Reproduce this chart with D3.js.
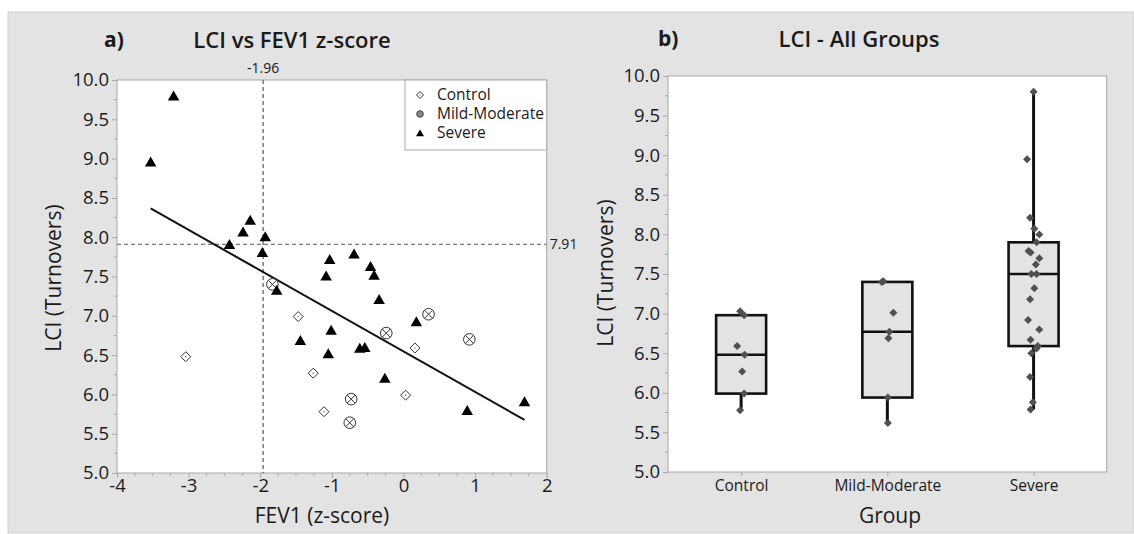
<!DOCTYPE html>
<html>
<head>
<meta charset="utf-8">
<script src="https://cdn.jsdelivr.net/npm/d3@7"></script>
<style>
  body { margin: 0; background: #ffffff; }
  svg { display: block; font-family: "Open Sans", "Noto Sans", sans-serif; }
</style>
</head>
<body>
<div id="container"></div>
<script>
// panel a) scatter data, FEV1 z-score vs LCI
const controlX = [-3.04, -1.47, -1.26, -1.11, 0.03, 0.16];
const controlY = [6.48, 6.99, 6.27, 5.78, 5.99, 6.59];
const mildX = [-1.83, -0.24, 0.35, 0.92, -0.73, -0.75];
const mildY = [7.40, 6.78, 7.02, 6.70, 5.94, 5.64];
const severeX = [-3.53, -3.21, -2.43, -2.24, -2.14, -1.97, -1.93, -1.77, -1.44, -1.08, -1.03, -1.01,
    -1.05, -0.69, -0.61, -0.54, -0.46, -0.41, -0.34, -0.26, 0.18, 0.89, 1.69];
const severeY = [8.96, 9.80, 7.91, 8.07, 8.22, 7.81, 8.01, 7.33, 6.69, 7.51, 7.72, 6.82,
    6.52, 7.79, 6.59, 6.60, 7.63, 7.52, 7.21, 6.21, 6.93, 5.80, 5.91];
const fitLine = { intercept: 6.547, slope: -0.5154 }; // regression line as printed
const refX = -1.96;
const refY = 7.91;
const xTicksA = [-4, -3, -2, -1, 0, 1, 2];
const yTicks = [5.0, 5.5, 6.0, 6.5, 7.0, 7.5, 8.0, 8.5, 9.0, 9.5, 10.0];

// panel b) LCI per group, with jitter (in units of half box width)
const groups = ["Control", "Mild-Moderate", "Severe"];
const controlLCI = [7.03, 6.98, 6.59, 6.48, 6.27, 5.99, 5.78];
const controlJitter = [-0.04, 0.12, -0.16, 0.14, 0.04, 0.12, -0.04];
const mildLCI = [7.41, 7.40, 7.01, 6.77, 6.69, 5.94, 5.62];
const mildJitter = [-0.16, -0.22, 0.24, 0.08, 0.04, 0.02, 0.02];
const severeLCI = [9.80, 8.95, 8.21, 8.07, 8.00, 7.90, 7.79, 7.77, 7.70, 7.62, 7.50, 7.50,
    7.32, 7.18, 6.92, 6.80, 6.67, 6.59, 6.56, 6.50, 6.20, 5.88, 5.79];
const severeJitter = [0, -0.26, -0.14, 0.03, 0.23, 0.12, -0.2, -0.12, 0.23, 0.09, -0.09, 0.12,
    0.03, -0.14, -0.22, 0.23, -0.12, 0.17, 0.12, -0.09, -0.14, -0.03, -0.12];

const W = 1134, H = 534;
const TEXT = "#1a1a1a";
const FRAME = "#a8a8a8";

const svg = d3.select("#container").append("svg").attr("width", W).attr("height", H);

// grey figure background
svg.append("rect").attr("x", 8).attr("y", 12).attr("width", W - 8).attr("height", 521)
    .attr("fill", "#e3e3e3").attr("stroke", "#d2d2d2");

// minitab style quartiles: position p*(n+1)
const mtbQuantile = (vals, p) => {
    const s = vals.slice().sort(d3.ascending);
    const n = s.length;
    const pos = p * (n + 1);
    const lo = Math.floor(pos);
    if (lo < 1) return s[0];
    if (lo >= n) return s[n - 1];
    return s[lo - 1] + (pos - lo) * (s[lo] - s[lo - 1]);
};

// strip d3 axis defaults so the page font is used
const styleAxis = (ax, size) => {
    ax.attr("font-family", null).attr("font-size", null);
    ax.select(".domain").remove();
    ax.selectAll(".tick line").attr("stroke", FRAME);
    ax.selectAll(".tick text").attr("font-size", size).attr("font-weight", 500).attr("fill", TEXT);
};

const drawYAxis = (g, y, x0) => {
    const ax = g.append("g").attr("transform", `translate(${x0},0)`)
        .call(d3.axisLeft(y).tickValues(yTicks).tickFormat(d3.format(".1f")).tickSize(5).tickPadding(3));
    styleAxis(ax, 18.5);
    // minor ticks
    const minor = d3.range(5.25, 10, 0.5);
    g.selectAll(null).data(minor).join("line")
        .attr("x1", x0 - 3).attr("x2", x0)
        .attr("y1", (d) => y(d)).attr("y2", (d) => y(d))
        .attr("stroke", FRAME);
};

// ---------------- panel a ----------------
const A = { x0: 117, x1: 546.7, y0: 80, y1: 473 };
const xA = d3.scaleLinear().domain([-4, 2]).range([A.x0, A.x1]);
const yA = d3.scaleLinear().domain([5, 10]).range([A.y1, A.y0]);
const gA = svg.append("g");

gA.append("rect").attr("x", A.x0).attr("y", A.y0).attr("width", A.x1 - A.x0).attr("height", A.y1 - A.y0)
    .attr("fill", "#fff").attr("stroke", FRAME);

drawYAxis(gA, yA, A.x0);

const axA = gA.append("g").attr("transform", `translate(0,${A.y1})`)
    .call(d3.axisBottom(xA).tickValues(xTicksA).tickFormat((d) => String(d)).tickSize(5).tickPadding(1));
styleAxis(axA, 18.5);
gA.selectAll(null).data(d3.range(-4, 2, 0.25).filter((d) => d % 1 !== 0)).join("line")
    .attr("x1", (d) => xA(d)).attr("x2", (d) => xA(d))
    .attr("y1", A.y1).attr("y2", A.y1 + 3).attr("stroke", FRAME);

// reference lines
gA.append("line").attr("x1", xA(refX)).attr("x2", xA(refX)).attr("y1", A.y0).attr("y2", A.y1)
    .attr("stroke", "#555").attr("stroke-width", 1.2).attr("stroke-dasharray", "4,3");
gA.append("line").attr("x1", A.x0).attr("x2", A.x1).attr("y1", yA(refY)).attr("y2", yA(refY))
    .attr("stroke", "#555").attr("stroke-width", 1.2).attr("stroke-dasharray", "4,3");
gA.append("text").attr("x", xA(refX)).attr("y", A.y0 - 7).attr("text-anchor", "middle")
    .attr("font-size", 14).attr("fill", TEXT).text(refX.toFixed(2));
gA.append("text").attr("x", A.x1 + 3).attr("y", yA(refY)).attr("dy", "0.35em")
    .attr("font-size", 14).attr("fill", TEXT).text(refY.toFixed(2));

// fitted line across the range of the data
const allX = controlX.concat(mildX, severeX);
const [fx0, fx1] = d3.extent(allX);
gA.append("line")
    .attr("x1", xA(fx0)).attr("y1", yA(fitLine.intercept + fitLine.slope * fx0))
    .attr("x2", xA(fx1)).attr("y2", yA(fitLine.intercept + fitLine.slope * fx1))
    .attr("stroke", "#111").attr("stroke-width", 2);

// marker shapes
const diamondPath = (r) => `M0,${-r}L${r},0L0,${r}L${-r},0Z`;
const trianglePath = (w) => `M0,${-w * 0.45}L${w / 2},${w * 0.42}L${-w / 2},${w * 0.42}Z`;

const drawControl = (g, x, y, r) => {
    const m = g.append("g").attr("transform", `translate(${x},${y})`);
    m.append("path").attr("d", diamondPath(r)).attr("fill", "#fff").attr("stroke", "#333").attr("stroke-width", 1);
    m.append("circle").attr("r", 0.6).attr("fill", "#333");
};
const drawMild = (g, x, y, r) => {
    const m = g.append("g").attr("transform", `translate(${x},${y})`);
    m.append("circle").attr("r", r).attr("fill", "#fff").attr("stroke", "#333").attr("stroke-width", 1);
    const k = r * 0.7;
    m.append("path").attr("d", `M${-k},${-k}L${k},${k}M${k},${-k}L${-k},${k}`)
        .attr("stroke", "#333").attr("stroke-width", 1);
};
const drawSevere = (g, x, y, w) => {
    g.append("path").attr("transform", `translate(${x},${y})`).attr("d", trianglePath(w)).attr("fill", "#000");
};

const ptsA = gA.append("g");
controlX.forEach((d, i) => drawControl(ptsA, xA(d), yA(controlY[i]), 5));
mildX.forEach((d, i) => drawMild(ptsA, xA(d), yA(mildY[i]), 5.8));
severeX.forEach((d, i) => drawSevere(ptsA, xA(d), yA(severeY[i]), 11.5));

// legend
const leg = gA.append("g");
leg.append("rect").attr("x", 405).attr("y", A.y0).attr("width", A.x1 - 405).attr("height", 70)
    .attr("fill", "#fff").attr("stroke", FRAME);
const legRows = [95, 114, 133];
drawControl(leg, 420, legRows[0], 3.5);
const lm = leg.append("g").attr("transform", `translate(420,${legRows[1]})`);
lm.append("circle").attr("r", 3.3).attr("fill", "#888").attr("stroke", "#444");
drawSevere(leg, 420, legRows[2], 8);
groups.forEach((t, i) => {
    leg.append("text").attr("x", 437).attr("y", legRows[i]).attr("dy", "0.35em")
        .attr("font-size", 15.5).attr("font-weight", 500).attr("fill", TEXT).text(t);
});

// titles and axis labels
svg.append("text").attr("x", 104).attr("y", 40).attr("dy", "0.35em").attr("font-size", 21)
    .attr("font-weight", 700).attr("fill", TEXT).text("a)");
svg.append("text").attr("x", 292).attr("y", 40).attr("dy", "0.35em").attr("text-anchor", "middle")
    .attr("font-size", 22).attr("font-weight", 600).attr("fill", TEXT).text("LCI vs FEV1 z-score");
svg.append("text").attr("x", 322).attr("y", 516).attr("dy", "0.35em").attr("text-anchor", "middle")
    .attr("font-size", 21).attr("font-weight", 500).attr("fill", TEXT).text("FEV1 (z-score)");
svg.append("text").attr("transform", "translate(54,278) rotate(-90)").attr("dy", "0.35em")
    .attr("text-anchor", "middle").attr("font-size", 21).attr("font-weight", 500).attr("fill", TEXT)
    .text("LCI (Turnovers)");

// ---------------- panel b ----------------
const B = { x0: 668, x1: 1106.7, y0: 76, y1: 472 };
const xB = d3.scalePoint().domain(groups).range([B.x0, B.x1]).padding(0.5);
const yB = d3.scaleLinear().domain([5, 10]).range([B.y1, B.y0]);
const gB = svg.append("g");
const BOX_W = 50;

gB.append("rect").attr("x", B.x0).attr("y", B.y0).attr("width", B.x1 - B.x0).attr("height", B.y1 - B.y0)
    .attr("fill", "#fff").attr("stroke", FRAME);
drawYAxis(gB, yB, B.x0);

const axB = gB.append("g").attr("transform", `translate(0,${B.y1})`)
    .call(d3.axisBottom(xB).tickSize(4).tickPadding(4));
styleAxis(axB, 15.5);

const groupVals = [controlLCI, mildLCI, severeLCI];
const groupJit = [controlJitter, mildJitter, severeJitter];

groups.forEach((name, gi) => {
    const vals = groupVals[gi];
    const cx = xB(name);
    const q1 = mtbQuantile(vals, 0.25);
    const med = mtbQuantile(vals, 0.5);
    const q3 = mtbQuantile(vals, 0.75);
    const iqr = q3 - q1;
    const lo = d3.min(vals.filter((v) => v >= q1 - 1.5 * iqr));
    const hi = d3.max(vals.filter((v) => v <= q3 + 1.5 * iqr));
    const g = gB.append("g");
    g.append("line").attr("x1", cx).attr("x2", cx).attr("y1", yB(hi)).attr("y2", yB(q3))
        .attr("stroke", "#111").attr("stroke-width", 3);
    g.append("line").attr("x1", cx).attr("x2", cx).attr("y1", yB(q1)).attr("y2", yB(lo))
        .attr("stroke", "#111").attr("stroke-width", 3);
    g.append("rect").attr("x", cx - BOX_W / 2).attr("y", yB(q3)).attr("width", BOX_W)
        .attr("height", yB(q1) - yB(q3)).attr("fill", "#e3e3e3").attr("stroke", "#111").attr("stroke-width", 2.6);
    g.append("line").attr("x1", cx - BOX_W / 2).attr("x2", cx + BOX_W / 2).attr("y1", yB(med)).attr("y2", yB(med))
        .attr("stroke", "#111").attr("stroke-width", 2.6);
    g.selectAll(null).data(vals).join("path")
        .attr("transform", (d, i) => `translate(${cx + groupJit[gi][i] * BOX_W / 2},${yB(d)})`)
        .attr("d", diamondPath(4))
        .attr("fill", "#505050");
});

svg.append("text").attr("x", 658).attr("y", 39).attr("dy", "0.35em").attr("font-size", 21)
    .attr("font-weight", 700).attr("fill", TEXT).text("b)");
svg.append("text").attr("x", 859).attr("y", 39).attr("dy", "0.35em").attr("text-anchor", "middle")
    .attr("font-size", 22).attr("font-weight", 600).attr("fill", TEXT).text("LCI - All Groups");
svg.append("text").attr("x", 890).attr("y", 516).attr("dy", "0.35em").attr("text-anchor", "middle")
    .attr("font-size", 21).attr("font-weight", 500).attr("fill", TEXT).text("Group");
svg.append("text").attr("transform", "translate(606,273) rotate(-90)").attr("dy", "0.35em")
    .attr("text-anchor", "middle").attr("font-size", 21).attr("font-weight", 500).attr("fill", TEXT)
    .text("LCI (Turnovers)");
</script>
</body>
</html>
